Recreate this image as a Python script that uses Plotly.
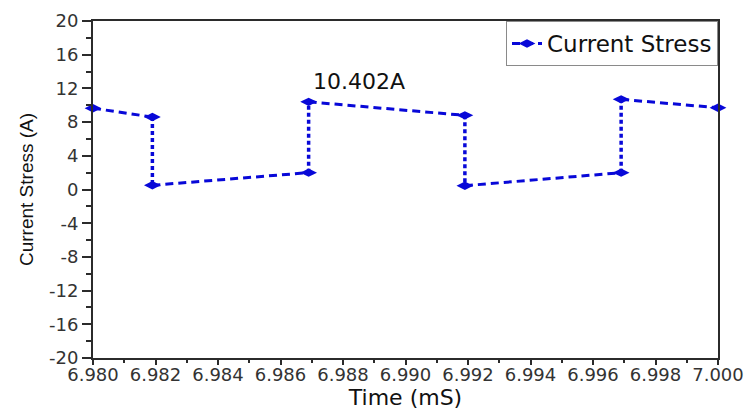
import plotly.graph_objects as go

# Switching waveform samples (time in mS, current in A)
time_ms = [6.9800, 6.9819, 6.9819, 6.9869, 6.9869, 6.9919, 6.9919, 6.9969, 6.9969, 7.0000]
current_a = [9.65, 8.6, 0.5, 2.0, 10.402, 8.8, 0.45, 2.0, 10.7, 9.7]
peak_label = "10.402A"
peak_index = 4

x_ticks = [6.980, 6.982, 6.984, 6.986, 6.988, 6.990, 6.992, 6.994, 6.996, 6.998, 7.000]
y_ticks = [-20, -16, -12, -8, -4, 0, 4, 8, 12, 16, 20]
y_tick_text = [str(v) for v in y_ticks]

blue = "#0808d8"
axis_color = "#2b2b2b"
wide_font = "DejaVu Sans, Verdana, sans-serif"

# Sloped segments are dashed, vertical transitions are dotted
slope_x, slope_y, vert_x, vert_y = [], [], [], []
for i in range(len(time_ms) - 1):
    x0, x1 = time_ms[i], time_ms[i + 1]
    y0, y1 = current_a[i], current_a[i + 1]
    if x0 == x1:
        vert_x += [x0, x1, None]
        vert_y += [y0, y1, None]
    else:
        slope_x += [x0, x1, None]
        slope_y += [y0, y1, None]

fig = go.Figure()
fig.add_trace(go.Scatter(
    x=slope_x, y=slope_y, mode="lines",
    line=dict(color=blue, width=3, dash="8px,5px"),
    showlegend=False, hoverinfo="skip",
))
fig.add_trace(go.Scatter(
    x=vert_x, y=vert_y, mode="lines",
    line=dict(color=blue, width=3.5, dash="4px,3px"),
    showlegend=False, hoverinfo="skip",
))
fig.add_trace(go.Scatter(
    x=time_ms, y=current_a, mode="markers",
    marker=dict(symbol="diamond-wide", size=12, color=blue),
    showlegend=False, cliponaxis=False,
))
# Legend entry: dashed line with diamond marker
fig.add_trace(go.Scatter(
    x=[None], y=[None], mode="lines+markers", name="Current Stress",
    line=dict(color=blue, width=3, dash="8px,5px"),
    marker=dict(symbol="diamond-wide", size=12, color=blue),
))

fig.add_annotation(
    x=time_ms[peak_index], y=current_a[peak_index], text=peak_label,
    showarrow=False, xanchor="left", yanchor="bottom", xshift=2, yshift=6,
    font=dict(family=wide_font, size=22, color="#111111"),
)

fig.update_xaxes(
    range=[6.980, 7.000], tickvals=x_ticks, tickformat=".3f", automargin=True,
    showgrid=False, zeroline=False, showline=True, linecolor=axis_color,
    linewidth=2, mirror=True, ticks="outside", ticklen=5, tickwidth=2,
    tickcolor=axis_color, ticklabelstandoff=-6,
    tickfont=dict(family=wide_font, size=18, color="#333333"),
    minor=dict(dtick=0.001, ticks="outside", ticklen=3, tickwidth=2, tickcolor=axis_color),
    title=dict(text="Time (mS)", standoff=4,
               font=dict(family=wide_font, size=22, color="#111111")),
)
fig.update_yaxes(
    range=[-20, 20], tickvals=y_ticks, ticktext=y_tick_text, automargin=True,
    showgrid=False, zeroline=False, showline=True, linecolor=axis_color,
    linewidth=2, mirror=True, ticks="outside", ticklen=9, tickwidth=2,
    tickcolor=axis_color,
    tickfont=dict(family=wide_font, size=18, color="#333333"),
    minor=dict(dtick=2, ticks="outside", ticklen=5, tickwidth=2, tickcolor=axis_color),
    title=dict(text="Current Stress (A)", standoff=10,
               font=dict(family="Liberation Sans, Arial", size=19, color="#111111")),
)

fig.update_layout(
    width=745, height=412,
    margin=dict(l=93, r=27, t=21, b=54, autoexpand=False),
    plot_bgcolor="white", paper_bgcolor="white",
    legend=dict(
        x=1, y=1, xanchor="right", yanchor="top",
        bordercolor="#8a8a8a", borderwidth=1, bgcolor="white",
        font=dict(family=wide_font, size=23, color="#111111"),
        tracegroupgap=0,
    ),
)

fig.write_html("out.html")
